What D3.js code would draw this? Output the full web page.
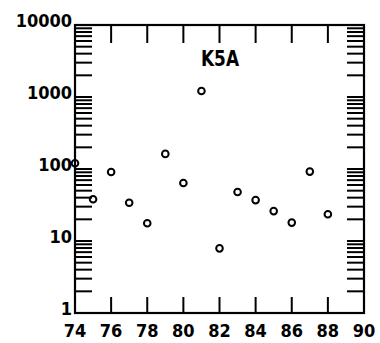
<!DOCTYPE html>
<html>
<head>
<meta charset="utf-8">
<script src="https://cdn.jsdelivr.net/npm/d3@7"></script>
<style>
html,body{margin:0;padding:0;background:#fff;}
svg{display:block;}
text{font-family:"DejaVu Sans Condensed","DejaVu Sans",sans-serif;font-weight:bold;fill:#000;}
</style>
</head>
<body>
<svg id="chart" width="380" height="343"></svg>
<script>
const title = "K5A";
const years = [74,75,76,77,78,79,80,81,82,83,84,85,86,87,88];
const values = [120,38,91,34,17.6,162,64,1210,7.9,48,37,26,18,92,23.5];
const xTicks = [74,76,78,80,82,84,86,88,90];
const yTicks = [1,10,100,1000,10000];

const svg = d3.select("#chart");
const L = 75, R = 364, T = 25, B = 313;
const x = d3.scaleLinear().domain([74,90]).range([L,R]);
const y = d3.scaleLog().domain([1,10000]).range([B,T]);

// minor tick values
const minor = [];
yTicks.slice(0,-1).forEach(d => { for (let k=2;k<=9;k++) minor.push(d*k); });
const allY = yTicks.concat(minor);
const tl = 17;

const g = svg.append("g");
// left & right y ticks
g.selectAll(".yl").data(allY).enter().append("line")
  .attr("x1", L).attr("x2", L+tl)
  .attr("y1", d=>y(d)).attr("y2", d=>y(d))
  .attr("stroke","#000").attr("stroke-width",2);
g.selectAll(".yr").data(allY).enter().append("line")
  .attr("x1", R).attr("x2", R-tl)
  .attr("y1", d=>y(d)).attr("y2", d=>y(d))
  .attr("stroke","#000").attr("stroke-width",2);
// bottom & top x ticks
const innerX = xTicks.slice(1,-1);
g.selectAll(".xb").data(innerX).enter().append("line")
  .attr("x1", d=>x(d)).attr("x2", d=>x(d))
  .attr("y1", B).attr("y2", B-16)
  .attr("stroke","#000").attr("stroke-width",2);
g.selectAll(".xt").data(innerX).enter().append("line")
  .attr("x1", d=>x(d)).attr("x2", d=>x(d))
  .attr("y1", T).attr("y2", T+18)
  .attr("stroke","#000").attr("stroke-width",2);
// frame
g.append("rect").attr("x",L).attr("y",T).attr("width",R-L).attr("height",B-T)
  .attr("fill","none").attr("stroke","#000").attr("stroke-width",2.2);

// labels
g.selectAll(".ylab").data(yTicks).enter().append("text")
  .attr("x", L-3).attr("y", d=>y(d)+2)
  .attr("text-anchor","end").attr("font-size",18)
  .text(d=>d);
g.selectAll(".xlab").data(xTicks).enter().append("text")
  .attr("x", d=>x(d)).attr("y", 337)
  .attr("text-anchor","middle").attr("font-size",18)
  .text(d=>d);

g.append("text").attr("x", 220).attr("y", 66)
  .attr("text-anchor","middle").attr("font-size",21)
  .attr("textLength",38).attr("lengthAdjust","spacingAndGlyphs")
  .text(title);

// points
g.selectAll(".pt").data(years.map((yr,i)=>({yr, v: values[i]}))).enter().append("circle")
  .attr("cx", d=>x(d.yr)).attr("cy", d=>y(d.v)).attr("r",3.3)
  .attr("fill","none").attr("stroke","#000").attr("stroke-width",2);
</script>
</body>
</html>
